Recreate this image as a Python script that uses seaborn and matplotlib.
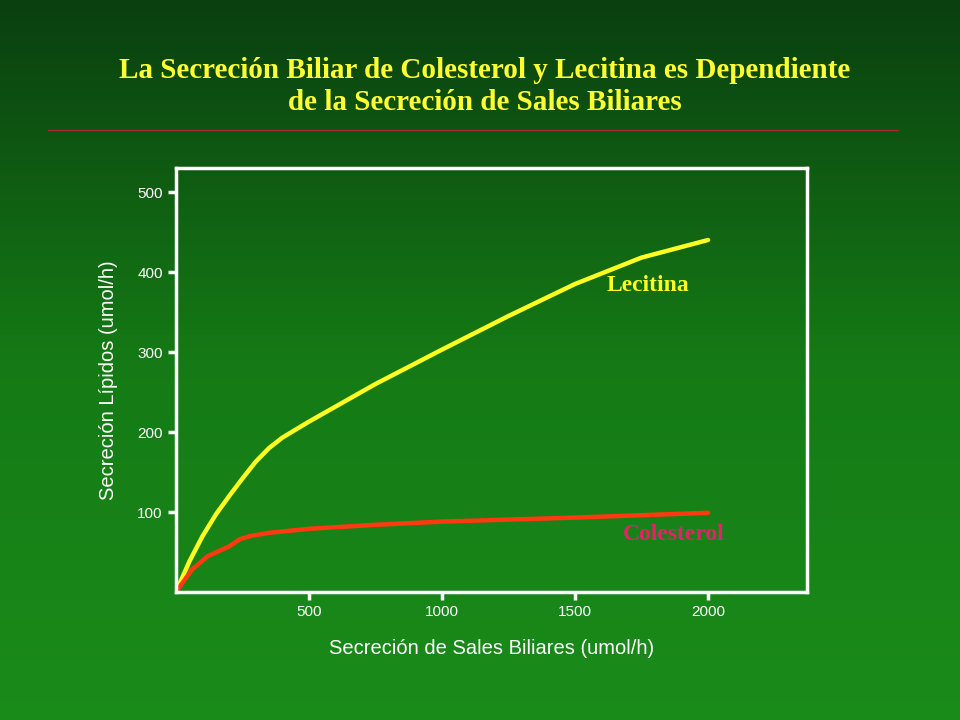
import numpy as np
import matplotlib
matplotlib.use("Agg")
import matplotlib.pyplot as plt
import seaborn as sns
import pandas as pd

sales = [0, 50, 100, 150, 200, 250, 300, 350, 400, 500, 750, 1000, 1250, 1500, 1750, 2000]
lecitina = [0, 38, 70, 97, 120, 142, 163, 180, 193, 213, 260, 303, 345, 385, 418, 440]
col_x = [0, 60, 120, 200, 240, 280, 350, 500, 750, 1000, 1500, 2000]
colesterol = [0, 28, 45, 57, 66, 70, 74, 79, 84, 88, 93, 99]
x_ticks = [500, 1000, 1500, 2000]
y_ticks = [100, 200, 300, 400, 500]

sns.set_style("white")
plt.rcParams["font.family"] = ["Liberation Sans", "DejaVu Sans"]

fig = plt.figure(figsize=(9.6, 7.2), dpi=100)
bg = fig.add_axes([0, 0, 1, 1], zorder=-10)
grad = np.linspace(0, 1, 256).reshape(-1, 1)
cmap = matplotlib.colors.LinearSegmentedColormap.from_list("g", ["#0a3f10", "#157a15", "#1a8c1a"])
bg.imshow(grad, aspect="auto", cmap=cmap, extent=[0, 1, 0, 1])
bg.axis("off")

fig.text(0.505, 0.88, "La Secreción Biliar de Colesterol y Lecitina es Dependiente\nde la Secreción de Sales Biliares",
         ha="center", va="center", color="#ffff33", fontsize=21, fontweight="bold",
         family=["Liberation Serif"], linespacing=1.2)
fig.add_artist(plt.Line2D([0.05, 0.935], [0.82, 0.82], color="#b02040", lw=1))

ax = fig.add_axes([176/960, 1-592/720, (807-176)/960, (592-168)/720])
ax.set_facecolor("none")
df1 = pd.DataFrame({"x": sales, "y": lecitina})
df2 = pd.DataFrame({"x": col_x, "y": colesterol})
sns.lineplot(data=df1, x="x", y="y", ax=ax, color="#ffff22", lw=3.2, solid_joinstyle="round")
sns.lineplot(data=df2, x="x", y="y", ax=ax, color="#ff3a10", lw=3.2, solid_joinstyle="round")
ax.set_xlim(0, 2372)
ax.set_ylim(0, 530)
for s in ax.spines.values():
    s.set_color("white")
    s.set_linewidth(2.5)
    s.set_visible(True)
ax.set_xticks(x_ticks)
ax.set_yticks(y_ticks)
ax.tick_params(colors="white", labelcolor="white", labelsize=11, direction="out",
               length=6, width=2.5, left=True, bottom=True)
ax.set_xlabel("Secreción de Sales Biliares (umol/h)", color="white", fontsize=14.5, labelpad=14)
ax.set_ylabel("Secreción Lípidos (umol/h)", color="white", fontsize=14.5, labelpad=14)
ax.text(1620, 383, "Lecitina", color="#ffff22", fontsize=17, fontweight="bold",
        family=["Liberation Serif"], va="center")
ax.text(1680, 72, "Colesterol", color="#e8206a", fontsize=17, fontweight="bold",
        family=["Liberation Serif"], va="center")

fig.savefig("out.png", dpi=100)
